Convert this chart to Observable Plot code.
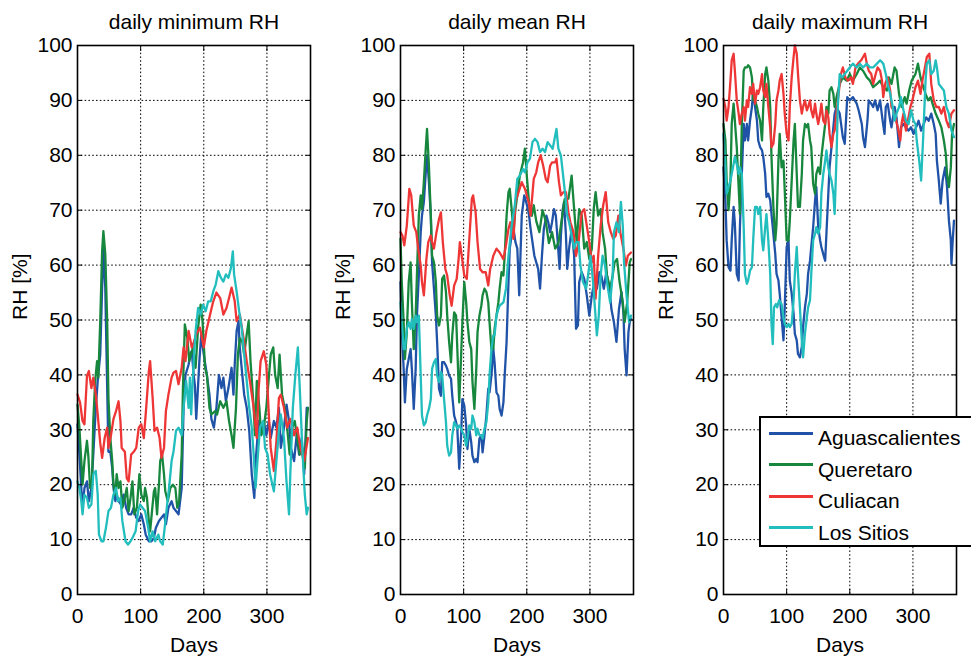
<!DOCTYPE html>
<html><head><meta charset="utf-8">
<script src="https://cdn.jsdelivr.net/npm/d3@7"></script>
<script src="https://cdn.jsdelivr.net/npm/@observablehq/plot@0.6"></script>
<style>
body{margin:0;background:#fff;overflow:hidden;}
#wrap{position:relative;width:971px;height:656px;overflow:hidden;font-family:"Liberation Sans",Arial,Helvetica,sans-serif;}
.panel{position:absolute;top:0;}
#legend{position:absolute;left:759px;top:416px;width:220px;height:131px;border:2px solid #000;background:#fff;box-sizing:border-box;}
.row{position:absolute;left:8px;height:24px;display:flex;align-items:center;font-size:21px;color:#000;white-space:nowrap;}
.row span{position:relative;top:5px;}
.sw{width:44px;height:3px;margin-right:5px;}
</style></head><body><div id="wrap"></div>
<script>
const stations = ["Aguascalientes", "Queretaro", "Culiacan", "Los Sitios"];
const colors = ["#2053a8", "#16873c", "#ee3636", "#22bdbd"];
const panelTitles = ["daily minimum RH", "daily mean RH", "daily maximum RH"];
const xTicks = [0, 100, 200, 300];
const yTicks = [0, 10, 20, 30, 40, 50, 60, 70, 80, 90, 100];

// daily minimum RH [day, %]
const minAguascalientes = [[0,31],[3,25.5],[6,19.4],[8,15.8],[11,19.4],[15,20.6],[18,17],[22,19.4],[25,25.5],[29,34],[32,38.9],[36,43.7],[39,55.9],[41,63],[44,55.9],[47,37.6],[49,26],[52,26],[55,23],[57,19.4],[60,17],[62,18.2],[65,17],[69,16.4],[73,18.2],[77,15.8],[81,14.6],[85,14.6],[89,15.8],[93,14],[97,13.4],[101,14.6],[105,12.8],[108,10.9],[113,9.7],[117,9.7],[121,10.3],[124,12.1],[129,13.4],[133,14],[137,14.6],[140,12.8],[144,15.8],[149,17],[152,15.8],[156,15.2],[160,14.6],[165,19.4],[168,34],[171,40],[176,41.9],[179,44],[181,44.3],[184,40],[186,38],[188,32],[190,36],[193,42.5],[196,47.4],[200,43.7],[204,40.7],[209,36.4],[212,32],[216,30.4],[220,34],[224,40],[228,37.6],[231,39.5],[235,35.2],[239,37.6],[244,41.3],[247,36.4],[249,41.9],[252,48],[255,49.8],[257,45],[261,40],[264,36.4],[268,34],[272,29.8],[276,21.9],[280,17.6],[283,25.5],[287,31.6],[290,29.8],[295,31.6],[299,29],[303,31.6],[306,28.5],[311,31.6],[315,30.4],[319,34],[322,26.7],[327,30.4],[331,34.6],[335,31.6],[338,26.7],[343,24.3],[347,29],[351,25.5],[355,28.5],[359,21.9],[363,34],[365,34]];
const minQueretaro = [[0,34.6],[3,30.4],[6,24.3],[8,20],[11,24.3],[15,28],[17,25.5],[20,19.4],[23,20.6],[25,31.6],[28,38.9],[31,42.5],[33,39.5],[36,49.8],[39,62.5],[41,66.2],[44,62],[47,49.8],[49,35.8],[52,28.5],[55,24.3],[57,20],[60,18.2],[62,21.9],[65,19.4],[68,20.6],[71,15.8],[75,17.6],[78,19.4],[81,15.2],[84,17.6],[87,20.6],[90,14.6],[94,15.8],[98,21.9],[101,18.2],[105,17],[107,19.4],[110,17.6],[113,13.4],[115,11.5],[118,15.2],[121,18.8],[123,19.4],[126,14.6],[129,20],[131,24.3],[134,25.5],[137,21.9],[139,18.8],[143,17],[147,19.4],[151,20],[155,19.4],[158,15.8],[161,17],[165,25.5],[167,37.6],[170,49.2],[174,46.7],[177,42.5],[181,44.3],[183,45],[187,41.3],[191,48.6],[195,52.8],[198,49.8],[202,41.3],[205,40],[209,34],[212,32.8],[218,33.4],[221,32.8],[226,35.2],[231,34],[236,35.2],[240,31.6],[244,29],[247,26.7],[251,34],[254,43.7],[257,46.7],[261,46],[264,43.7],[268,47.4],[271,49.8],[274,42.5],[279,34],[281,29],[284,38.9],[288,34],[291,29],[295,30.4],[299,34],[303,39.5],[306,43.7],[310,45],[313,40],[317,37.6],[320,43.7],[324,36.4],[328,34],[332,30.4],[336,25.5],[340,30.4],[344,31.6],[348,28.5],[352,25.5],[356,26.7],[360,23],[363,31.6],[365,34]];
const minCuliacan = [[0,36.4],[4,35],[8,31.6],[11,31],[15,39.8],[18,40.7],[22,37.6],[25,39.5],[29,36.4],[32,32.8],[36,27.6],[39,24.9],[43,28.5],[47,30.4],[49,26.7],[53,29],[57,32],[61,33.4],[65,35.2],[68,31.6],[70,26.7],[75,26],[78,21.2],[81,20.6],[85,25.5],[89,26],[93,26.7],[97,30.4],[101,31],[105,28.5],[108,32.8],[113,40.7],[115,42.5],[119,35.8],[122,29.8],[126,30.4],[130,28.5],[133,24.9],[137,26.7],[140,33.4],[144,36.4],[149,39.5],[152,40.4],[156,40.7],[160,38.3],[165,41.3],[168,45],[171,42.5],[176,48],[181,45],[183,45.5],[188,47.4],[194,48.6],[200,45],[204,48],[210,51],[215,53.4],[220,55],[226,54],[231,51],[236,52.2],[240,54],[244,55.9],[249,53.4],[252,49.8],[257,51],[263,46.7],[268,42.5],[273,38.9],[279,34],[284,28.5],[287,37.6],[290,42.5],[295,44.3],[299,41.9],[303,32.8],[306,26.7],[311,22.5],[315,27.9],[319,35.8],[322,36.4],[327,34],[332,30.4],[337,32],[343,29],[348,30.4],[353,26.7],[359,24.3],[365,28.5]];
const minLosSitios = [[0,20.6],[3,19.4],[6,17],[8,14.6],[11,18.2],[15,17.6],[18,15.8],[22,16.4],[25,21.9],[29,22.5],[32,18.2],[34,10.9],[38,9.7],[41,9.7],[45,12.1],[49,15.2],[53,15.8],[57,18.2],[61,19.4],[64,17],[68,17.6],[71,13.4],[76,9.7],[80,9.1],[84,9.7],[87,10.3],[92,11.5],[96,15.2],[99,16.4],[103,15.8],[107,15.2],[112,12.1],[115,9.7],[119,11.5],[123,9.7],[128,10.9],[131,9.7],[135,9.1],[138,12.1],[142,16.4],[145,19.4],[149,24.3],[152,26],[156,29.8],[160,30.4],[165,29],[168,34],[172,38.9],[176,34],[178,39.5],[180,32.8],[184,42.5],[187,48],[191,52.2],[195,51],[199,52.8],[203,51.6],[207,53.4],[211,53.4],[215,55.2],[219,56.5],[223,58.9],[227,57.7],[231,57],[235,58.3],[239,57.7],[243,59.5],[246,62.5],[248,58.3],[252,55.2],[256,51.6],[260,48.6],[264,43.7],[268,38.9],[272,34],[276,30.4],[279,25.5],[282,19.4],[285,24.3],[289,30.4],[294,31.6],[297,26.7],[301,25.5],[305,21.9],[311,18.8],[315,24.3],[319,29.8],[322,32.8],[327,28.5],[331,20.6],[335,14.6],[337,21.9],[341,34],[345,40],[349,45],[352,37.6],[356,26.7],[360,18.2],[363,14.6],[365,15.8]];

// daily mean RH [day, %]
const meanAguascalientes = [[0,56.9],[2,48.4],[5,41.1],[7,35],[10,41.1],[13,42.9],[16,44.7],[18,41.1],[21,33.8],[24,41.1],[26,50.8],[29,58.1],[32,66],[34,69],[37,71.5],[40,76.9],[42,80],[45,75.1],[48,69],[50,60.5],[53,55.7],[56,50.8],[58,46],[61,37.5],[64,36.2],[66,42.3],[69,42.3],[72,41.7],[74,41.1],[77,39.9],[80,39.3],[82,36.2],[85,32.6],[88,31.4],[90,30.2],[93,22.9],[96,29],[98,35.6],[101,34.4],[104,30.8],[106,26.5],[109,30.2],[112,27.7],[114,25.3],[117,24.1],[120,24.7],[122,24.1],[125,28.4],[128,29],[130,25.9],[133,29],[136,32.6],[139,37.5],[141,36.8],[144,39.9],[147,44.7],[149,42.3],[152,36.8],[155,36.2],[157,33.8],[160,32.6],[163,35],[165,39.9],[168,46],[171,56.9],[173,63],[176,65.4],[179,66.6],[182,64.2],[185,63],[188,54.5],[192,69],[196,72.7],[199,71.5],[203,69.6],[206,66.6],[209,64.2],[212,61.7],[215,60.5],[218,59.3],[221,55.7],[224,61.7],[227,66.6],[231,69],[234,67.8],[237,66],[240,67.8],[243,70.2],[246,69],[249,64.2],[252,59.3],[254,65.4],[257,70.2],[259,71.5],[262,65.4],[264,59.3],[267,63],[271,66.6],[275,61.7],[278,48.4],[281,49],[283,56.9],[287,58.7],[291,57.5],[295,54.5],[299,50.8],[303,54.5],[306,56.3],[311,55.7],[315,58.7],[318,58.1],[322,55.7],[326,58.7],[331,55.7],[334,52],[338,49.6],[342,46],[346,52],[350,55.1],[353,51.4],[355,44.7],[358,39.9],[361,47.8],[363,49.6],[365,50.2]];
const meanQueretaro = [[0,64.8],[2,56.9],[5,49.6],[7,42.9],[10,47.8],[13,56.9],[16,60.5],[18,53.2],[21,44.7],[24,50.8],[26,58.1],[29,69],[32,72.7],[34,70.2],[37,75.1],[40,81.2],[42,84.8],[45,78.1],[48,69],[50,61.7],[53,60.5],[56,56.9],[58,50.8],[61,49],[64,50.8],[66,57.5],[69,58.1],[72,55.1],[74,50.8],[77,46],[80,42.3],[82,47.2],[85,51.4],[88,50.8],[90,44.7],[93,35],[96,43.5],[98,49.6],[101,56.9],[104,53.2],[106,49.6],[109,46],[112,44.7],[114,38.7],[117,33.8],[120,41.1],[122,47.8],[125,50.8],[128,52.6],[130,54.5],[133,55.7],[136,55.1],[139,53.2],[141,49.6],[144,44.7],[147,44.7],[149,48.4],[152,50.8],[155,53.2],[157,55.7],[160,58.7],[163,58.1],[165,61.7],[168,69],[171,73.3],[173,73.9],[176,70.2],[179,66],[182,70.2],[185,72.7],[189,76.3],[194,78.7],[197,81.2],[200,76.3],[203,72.1],[205,69.6],[208,69],[211,70.9],[215,68],[220,66],[225,70],[230,68],[235,64],[240,66],[245,63],[250,64],[255,68],[260,72],[266,72.1],[271,76.3],[275,70.2],[279,64.2],[283,70.2],[287,69],[291,63],[295,64.2],[299,61.1],[303,63],[306,70.2],[309,73.3],[313,69],[317,70.2],[320,66],[324,63],[327,58.1],[332,55.7],[336,58.1],[339,60.5],[343,61.1],[347,56.9],[352,53.2],[355,49.6],[359,53.2],[363,60.5],[365,61.1]];
const meanCuliacan = [[0,66],[3,65.4],[6,63.6],[10,67.2],[14,73.9],[17,72.7],[21,67.2],[25,66],[28,63],[32,59.9],[34,56.9],[37,54.5],[41,61.1],[44,64.2],[48,65.4],[50,64.2],[53,63],[57,66],[61,68.4],[64,69.6],[67,64.2],[71,59.3],[74,58.1],[78,54.5],[81,52.6],[85,56.3],[89,57.5],[92,61.1],[94,64.2],[97,61.7],[101,58.1],[105,57.5],[109,64.8],[113,72.1],[115,72.7],[119,69.6],[122,64.2],[126,59.3],[130,58.7],[135,58.7],[139,56.3],[142,59.3],[147,61.7],[152,63],[157,62.3],[163,61.1],[167,63.6],[171,66.6],[174,67.8],[179,64.8],[182,71.5],[187,73.3],[192,75.1],[197,73.9],[203,71.5],[206,69],[211,75.7],[215,76.9],[218,78.7],[222,80],[226,78.1],[230,75.7],[233,75.1],[237,78.1],[240,78.7],[245,78.7],[247,79.4],[251,75.1],[254,72.7],[258,73.3],[262,73.3],[266,69.6],[269,67.8],[274,66],[278,61.7],[282,64.2],[287,69.6],[291,70.2],[295,67.2],[299,64.2],[303,60.5],[306,61.7],[309,53.9],[313,61.7],[317,67.2],[321,70.9],[325,73.3],[329,67.8],[333,66],[337,64.8],[341,65.4],[345,69],[348,66],[353,63],[357,59.9],[360,61.7],[365,62.3]];
const meanLosSitios = [[0,53.2],[2,49.6],[5,44.7],[7,44.7],[10,48.4],[13,49.6],[16,48.4],[18,50.2],[21,48.4],[24,50.8],[26,49.6],[29,50.8],[32,39.9],[34,32.6],[37,30.8],[40,31.4],[42,32.6],[45,33.8],[48,35.6],[50,41.1],[53,42.3],[56,42.9],[58,39.9],[61,38.7],[64,40.5],[66,39.9],[69,35.6],[72,31.4],[74,27.1],[77,25.3],[80,25.9],[82,29],[85,31.4],[88,30.8],[90,30.2],[93,30.8],[96,30.2],[98,29.6],[101,29],[104,27.1],[106,28.4],[109,30.8],[112,30.2],[114,32.6],[117,31.4],[120,29],[122,30.2],[125,29],[128,29],[130,28.4],[133,30.2],[136,31.4],[139,35],[141,39.9],[144,44.7],[147,47.2],[149,47.2],[152,50.8],[155,52],[157,52.6],[163,53.2],[167,55.7],[171,61.7],[176,67.2],[181,70.9],[185,75.7],[189,76.3],[194,77.5],[197,76.9],[201,78.7],[205,79.4],[209,82.4],[213,83],[217,82.4],[221,80.6],[225,81.2],[229,80.6],[233,82.4],[237,81.8],[241,81.2],[245,83.6],[247,84.8],[250,81.2],[254,80],[257,76.9],[261,72.7],[264,69],[267,67.8],[271,65.4],[275,63],[278,64.2],[282,64.2],[285,59.9],[289,56.9],[294,55.7],[297,58.1],[301,61.7],[305,56.9],[308,52],[311,47.2],[314,50.8],[317,58.1],[320,61.7],[324,59.9],[327,56.9],[332,53.2],[336,58.1],[338,66],[342,67.8],[346,66],[349,71.5],[352,67.2],[354,60.5],[358,54.5],[362,49.6],[365,50.8]];

// daily maximum RH [day, %]
const maxAguascalientes = [[0,77.8],[3,71.8],[5,64.5],[8,59.6],[11,59],[13,64.5],[16,70.6],[18,67.5],[21,58.4],[24,57.2],[26,66.9],[29,76.6],[32,85.7],[34,82.7],[37,85.7],[39,82.7],[42,86.3],[45,88.8],[47,91.8],[50,88.8],[53,86.3],[55,82.7],[58,81.5],[61,80.9],[63,79.7],[66,76.6],[68,72.4],[71,73],[74,71.8],[76,69.3],[79,65.7],[82,62],[84,58.4],[87,57.2],[89,54.8],[92,50.5],[95,46.3],[97,52.3],[100,63.3],[103,64.5],[105,57.2],[108,54.8],[111,51.1],[113,47.5],[116,46.3],[118,43.8],[121,43.2],[124,45.1],[126,48.7],[129,52.3],[132,54.8],[134,58.4],[137,60.8],[139,63.3],[142,66.9],[145,71.8],[147,74.2],[150,66.9],[153,64.5],[155,63.3],[158,62],[161,60.8],[163,65.7],[166,73],[168,77.8],[171,81.5],[174,85.1],[176,87.6],[179,88.8],[184,87.6],[189,83.3],[192,82.1],[196,90.6],[200,90],[205,90.6],[211,89.4],[214,88.2],[219,85.7],[221,83.3],[224,81.5],[228,86.3],[230,90],[234,89.4],[237,88.8],[240,90],[244,88.2],[248,90],[252,86.3],[255,83.9],[257,88.8],[260,89.4],[264,86.3],[266,85.1],[271,88.8],[274,86.9],[278,81.5],[281,85.1],[285,85.7],[289,85.1],[293,84.5],[297,85.1],[301,83.9],[305,85.1],[309,86.3],[313,84.5],[317,85.7],[321,86.9],[325,86.3],[329,87.6],[333,85.7],[336,83.9],[338,79],[341,75.4],[344,71.2],[347,75.4],[351,77.8],[354,74.2],[357,68.1],[360,64.5],[361,60.2],[363,64.5],[365,68.1]];
const maxQueretaro = [[0,85.7],[3,82.7],[5,75.4],[8,70],[11,75.4],[13,85.7],[16,89.4],[18,86.3],[21,81.5],[24,74.2],[26,69.3],[29,85.7],[32,95.4],[34,96],[37,96],[39,96.4],[42,96],[45,94.2],[47,90],[50,90],[53,88.8],[55,87.6],[58,86.3],[61,82.7],[63,88.8],[66,94.8],[68,96],[71,93.6],[74,88.8],[76,79.7],[79,70.6],[82,64.5],[84,67.5],[87,79],[89,83.9],[92,77.8],[95,79],[97,73.6],[100,64.5],[103,64.5],[105,68.1],[108,75.4],[111,82.7],[113,85.7],[116,76.6],[118,70.6],[121,70.6],[124,76.6],[126,82.7],[129,85.7],[132,85.1],[134,85.7],[137,82.7],[139,81.5],[142,74.8],[145,73],[147,76.6],[150,77.8],[153,76.6],[155,79.7],[158,82.7],[161,85.7],[163,88.8],[166,87.6],[168,91.8],[171,92.4],[174,91.2],[176,88.8],[179,90.6],[184,93],[189,94.2],[195,93.6],[200,94.8],[205,93.6],[211,94.8],[216,96],[221,95.4],[227,94.2],[232,93.6],[237,92.4],[243,93],[248,93.6],[253,92.4],[259,91.8],[262,94.2],[266,93],[271,96],[274,95.4],[278,91.2],[282,88.8],[287,90.6],[290,89.4],[294,91.8],[298,93.6],[304,94.8],[308,96.7],[312,94.2],[315,93],[320,91.2],[324,90],[328,90.6],[331,89.4],[336,87.6],[341,86.3],[345,85.1],[349,82.7],[352,80.3],[354,76.6],[357,74.2],[360,77.8],[362,83.9],[365,85.7]];
const maxCuliacan = [[0,90.3],[3,88.8],[5,86.3],[8,88.8],[11,93.6],[13,97.3],[16,98.5],[18,95.4],[21,90],[24,87.6],[26,85.7],[29,87.6],[32,88.8],[34,86.3],[37,90],[39,88.8],[42,92.4],[45,91.2],[47,93],[50,89.4],[53,91.8],[55,91.2],[58,92.4],[61,94.8],[63,91.8],[66,90.6],[68,93],[71,88.8],[74,85.1],[76,81.5],[79,82.1],[82,85.7],[84,90],[87,91.8],[89,93.6],[92,94.8],[95,91.2],[97,87.6],[100,83.9],[103,82.7],[105,88.8],[108,94.2],[111,97.9],[113,100],[116,98.5],[118,94.8],[121,90],[124,87.6],[126,88.8],[129,90],[132,88.2],[134,88.8],[137,90],[139,88.2],[142,86.9],[145,89.4],[147,87.6],[150,85.7],[153,87.6],[155,89.4],[158,86.3],[161,85.7],[163,88.2],[166,86.9],[168,83.9],[171,81.5],[174,83.9],[176,84.5],[181,90],[186,94.8],[189,96],[193,94.2],[197,93.6],[202,94.2],[205,93],[209,96],[213,96.7],[218,97.3],[221,97.9],[224,98.5],[227,96.7],[230,95.4],[234,94.8],[237,93],[241,94.8],[244,96],[248,95.4],[251,93.6],[253,90.6],[256,93],[260,94.2],[264,91.8],[266,88.8],[269,88.2],[272,86.9],[276,85.1],[280,82.7],[282,85.7],[285,87.6],[289,84.5],[292,86.3],[296,88.8],[299,90],[304,92.4],[308,93.6],[312,91.2],[315,93.6],[319,96],[322,97.9],[326,98.5],[329,93],[333,90],[337,88.8],[341,88.8],[345,87.6],[349,88.8],[353,86.3],[357,85.1],[361,87.6],[365,88.2]];
const maxLosSitios = [[0,83.9],[3,77.8],[5,73],[8,74.2],[11,75.4],[13,76.6],[16,78.4],[18,79.7],[21,78.4],[24,76.6],[26,77.8],[29,76.6],[32,66.9],[34,58.4],[37,56.6],[39,57.2],[42,59],[45,59.6],[47,64.5],[50,70.6],[53,70.6],[55,69.3],[58,70.6],[61,64.5],[63,62.7],[66,66.9],[68,69.3],[71,64.5],[74,58.4],[76,49.3],[78,45.6],[80,52.3],[83,52.9],[85,52.3],[88,53.6],[92,52.9],[95,50.5],[97,49.3],[100,48.7],[103,49.3],[105,48.7],[108,49.3],[111,53.6],[113,58.4],[116,63.3],[118,58.4],[121,52.3],[124,46.3],[126,43.2],[129,47.5],[132,50.5],[134,52.3],[137,53.6],[139,58.4],[142,64.5],[145,65.7],[147,66.9],[150,65.7],[153,66.9],[155,73],[158,76.6],[161,79],[163,80.9],[166,77.8],[168,76.6],[171,75.4],[174,73],[176,69.3],[179,79.7],[181,88.8],[184,94.8],[188,94.2],[192,94.8],[196,95.4],[200,96],[205,96.7],[211,96],[216,96.7],[221,96],[227,96.7],[232,96],[237,96],[243,96.7],[248,97.3],[253,96.7],[257,94.8],[260,93],[264,91.2],[268,88.8],[271,86.3],[274,87.6],[278,88.8],[281,90.6],[285,88.2],[289,86.3],[293,85.7],[297,88.2],[301,86.3],[304,85.7],[306,82.7],[310,79],[313,75.4],[316,82.7],[320,93.6],[322,96.7],[326,97.3],[329,94.8],[333,95.4],[336,97.3],[338,96],[341,93],[345,92.4],[349,91.8],[353,88.8],[357,87.6],[361,84.5],[365,83.3]];

const panels = [
  {title: panelTitles[0], series: [minAguascalientes, minQueretaro, minCuliacan, minLosSitios]},
  {title: panelTitles[1], series: [meanAguascalientes, meanQueretaro, meanCuliacan, meanLosSitios]},
  {title: panelTitles[2], series: [maxAguascalientes, maxQueretaro, maxCuliacan, maxLosSitios]}
];

const FONT = "'Liberation Sans', Arial, Helvetica, sans-serif";
const wrap = document.getElementById("wrap");
const gridStyle = {stroke: "#000", strokeOpacity: 1, strokeWidth: 1, strokeDasharray: "1.6,2.2"};

panels.forEach((p, k) => {
  const rows = [];
  p.series.forEach((s, i) => s.forEach(([d, v]) => rows.push({day: d, rh: v, station: stations[i]})));
  const svg = Plot.plot({
    width: 323, height: 656,
    marginLeft: 77, marginRight: 13, marginTop: 45, marginBottom: 62,
    style: {fontFamily: FONT, fontSize: "21px", background: "transparent", color: "#000", overflow: "visible"},
    x: {domain: [0, 369]},
    y: {domain: [0, 100]},
    color: {domain: stations, range: colors},
    marks: [
      Plot.gridX(xTicks.slice(1), gridStyle),
      Plot.gridY(yTicks.slice(1, -1), gridStyle),
      Plot.line(rows, {x: "day", y: "rh", z: "station", stroke: "station", strokeWidth: 2.3}),
      Plot.frame({stroke: "#000", strokeWidth: 1.6}),
      Plot.axisX({ticks: xTicks, tickSize: -5, tickPadding: 19, fontSize: 21, label: null, stroke: "#000"}),
      Plot.axisX({anchor: "top", ticks: xTicks, tickSize: -5, tickFormat: () => "", label: null, stroke: "#000"}),
      Plot.axisY({ticks: yTicks, tickSize: -5, tickPadding: 10, fontSize: 21, label: null, stroke: "#000"}),
      Plot.axisY({anchor: "right", ticks: yTicks, tickSize: -5, tickFormat: () => "", label: null, stroke: "#000"}),
      Plot.text([p.title], {frameAnchor: "top", dy: -23.5, lineAnchor: "middle", fontSize: 21, fill: "#000"}),
      Plot.text(["Days"], {frameAnchor: "bottom", dy: 50.5, lineAnchor: "middle", fontSize: 21, fill: "#000"}),
      Plot.text(["RH [%]"], {frameAnchor: "left", dx: -57, rotate: -90, lineAnchor: "middle", fontSize: 21, fill: "#000"})
    ]
  });
  svg.classList.add("panel");
  svg.style.left = (k * 323) + "px";
  wrap.appendChild(svg);
});

// legend
const legend = document.createElement("div");
legend.id = "legend";
stations.forEach((s, i) => {
  const row = document.createElement("div");
  row.className = "row";
  row.style.top = (3 + i * 31.6) + "px";
  const sw = document.createElement("div");
  sw.className = "sw";
  sw.style.background = colors[i];
  const t = document.createElement("span");
  t.textContent = s;
  row.appendChild(sw);
  row.appendChild(t);
  legend.appendChild(row);
});
wrap.appendChild(legend);
</script>
</body></html>
